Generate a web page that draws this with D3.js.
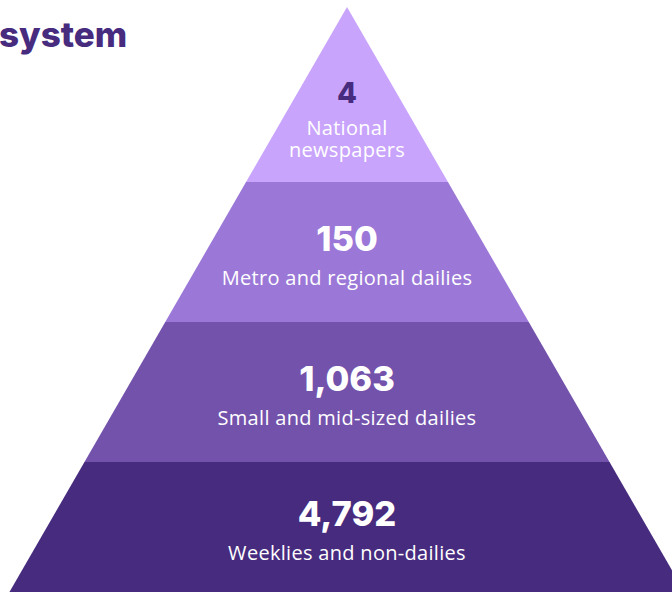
<!DOCTYPE html>
<html>
<head>
<meta charset="utf-8">
<script src="https://cdn.jsdelivr.net/npm/d3@7"></script>
<style>
  html, body { margin: 0; padding: 0; background: #fff; overflow: hidden; }
  svg { display: block; }
</style>
</head>
<body>
<svg id="chart" width="672" height="592"></svg>
<script>
// ---- data ----
const categories = ["National newspapers", "Metro and regional dailies", "Small and mid-sized dailies", "Weeklies and non-dailies"];
const labelLines = [["National", "newspapers"], ["Metro and regional dailies"], ["Small and mid-sized dailies"], ["Weeklies and non-dailies"]];
const counts = [4, 150, 1063, 4792];
const layerColors = ["#c9a4fc", "#9b78d7", "#7352ac", "#472b7e"];
const numberColors = ["#472b7e", "#ffffff", "#ffffff", "#ffffff"];
const titleText = "system";

// ---- layout ----
const W = 672, H = 592;
const svg = d3.select("#chart");
const apex = { x: 347, y: 7 };
const slope = 0.577; // half-width per unit height

const y = d3.scaleBand().domain(categories).range([42, 602]).paddingInner(0).paddingOuter(0);
const halfW = yy => (yy - apex.y) * slope;
const fmt = d3.format(",");

const layers = categories.map((c, i) => {
  const y0 = i === 0 ? apex.y : y(c);
  const y1 = y(c) + y.bandwidth();
  return { c, i, y0, y1, bandTop: y(c) };
});

svg.selectAll("path.layer")
  .data(layers)
  .join("path")
  .attr("class", "layer")
  .attr("fill", d => layerColors[d.i])
  .attr("d", d => {
    const p = d3.path();
    p.moveTo(apex.x - halfW(d.y0), d.y0);
    p.lineTo(apex.x + halfW(d.y0), d.y0);
    p.lineTo(apex.x + halfW(d.y1), d.y1);
    p.lineTo(apex.x - halfW(d.y1), d.y1);
    p.closePath();
    return p.toString();
  });

const numFont = "Inter, 'Noto Sans', sans-serif";
const labelFont = "'Open Sans', 'Noto Sans', sans-serif";

layers.forEach(d => {
  const vis = Math.min(d.y1, H) - d.bandTop;
  if (d.i === 0) {
    d.numY = 103; d.labY = 135;
  } else {
    d.numY = d.bandTop + vis * 0.495;
    d.labY = d.numY + 34;
  }
});

svg.selectAll("text.num")
  .data(layers)
  .join("text")
  .attr("class", "num")
  .attr("x", apex.x)
  .attr("y", d => d.numY)
  .attr("text-anchor", "middle")
  .attr("font-family", numFont)
  .attr("font-weight", 800)
  .attr("font-size", d => d.i === 0 ? 29 : 34.5)
  .attr("fill", d => numberColors[d.i])
  .text(d => fmt(counts[d.i]));

const labs = svg.selectAll("text.lab")
  .data(layers)
  .join("text")
  .attr("class", "lab")
  .attr("text-anchor", "middle")
  .attr("font-family", labelFont)
  .attr("font-weight", 400)
  .attr("font-size", 20)
  .attr("letter-spacing", 0.3)
  .attr("fill", "#ffffff");

labs.selectAll("tspan")
  .data(d => labelLines[d.i].map((t, k) => ({ t, k, d })))
  .join("tspan")
  .attr("x", apex.x)
  .attr("y", o => o.d.labY + o.k * 22)
  .text(o => o.t);

// title fragment
svg.append("text")
  .attr("x", -1)
  .attr("y", 47)
  .attr("font-family", numFont)
  .attr("font-weight", 800)
  .attr("font-size", 35)
  .attr("fill", "#472b7e")
  .text(titleText);
</script>
</body>
</html>
